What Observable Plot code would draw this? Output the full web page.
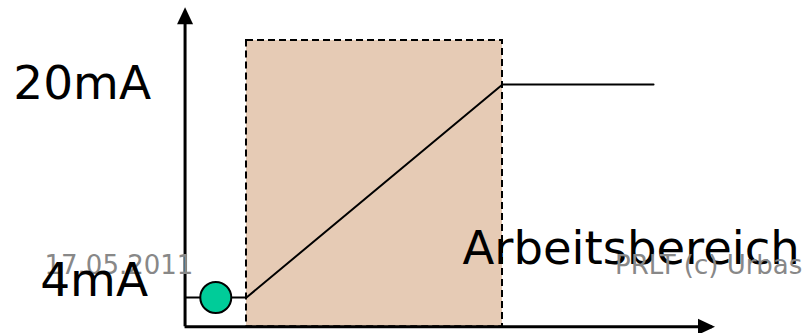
<!DOCTYPE html>
<html>
<head>
<meta charset="utf-8">
<script src="https://cdn.jsdelivr.net/npm/d3@7"></script>
<script src="https://cdn.jsdelivr.net/npm/@observablehq/plot@0.6"></script>
<style>
  html, body { margin: 0; padding: 0; background: #ffffff; overflow: hidden; }
  #chart { width: 807px; height: 333px; }
</style>
</head>
<body>
<div id="chart"></div>
<script>
// ---- data (x: measuring range in %, y: current in mA) ----
const workRange = [0, 100];          // Arbeitsbereich (working range)
const currentRange = [4, 20];        // output current span (mA)
const yTicks = [4, 20];
const yTickLabels = ["4mA", "20mA"];
const signalX = [-24, 0, 100, 159];  // output characteristic
const signalY = [4, 4, 20, 20];
const markerX = [-12];               // status marker
const markerY = [4];
const axisOriginX = -24;
const axisOriginY = 1.8;
const axisEndX = 183;
const axisEndY = 25.8;
const rangeTop = 23.3;
const rangeLabel = "Arbeitsbereich";
const footerDate = "17.05.2011";
const footerText = "PRLT (c) Urbas";

const signal = signalX.map((x, i) => ({x, y: signalY[i]}));
const marker = markerX.map((x, i) => ({x, y: markerY[i]}));

// filled arrowheads (tip at the anchor point)
const arrowUp = {draw(ctx) { ctx.moveTo(0, 0); ctx.lineTo(8, 17); ctx.lineTo(-8, 17); ctx.closePath(); }};
const arrowRight = {draw(ctx) { ctx.moveTo(0, 0); ctx.lineTo(-17, 8); ctx.lineTo(-17, -8); ctx.closePath(); }};

const chart = Plot.plot({
  width: 807,
  height: 333,
  margin: 0,
  style: {fontFamily: "DejaVu Sans", background: "#ffffff", overflow: "hidden"},
  x: {domain: workRange, range: [246, 502], axis: null},
  y: {domain: currentRange, range: [297, 84], axis: null},
  marks: [
    Plot.rect([0], {x1: workRange[0], x2: workRange[1], y1: axisOriginY, y2: rangeTop,
      fill: "#E6CBB5", stroke: "#000000", strokeWidth: 2, strokeDasharray: "7,4"}),
    Plot.line(signal, {x: "x", y: "y", stroke: "#000000", strokeWidth: 2}),
    Plot.ruleX([axisOriginX], {y1: axisOriginY, y2: axisEndY - 1, stroke: "#000000", strokeWidth: 3}),
    Plot.ruleY([axisOriginY], {x1: axisOriginX, x2: axisEndX - 1, stroke: "#000000", strokeWidth: 3}),
    Plot.dot([0], {x: axisOriginX, y: axisEndY, symbol: arrowUp, fill: "#000000", stroke: "none"}),
    Plot.dot([0], {x: axisEndX, y: axisOriginY, symbol: arrowRight, fill: "#000000", stroke: "none"}),
    Plot.dot(marker, {x: "x", y: "y", r: 15.5, fill: "#00CC99", stroke: "#000000", strokeWidth: 2}),
    Plot.text([yTickLabels[1]], {x: axisOriginX, y: yTicks[1], text: d => d, textAnchor: "end", lineAnchor: "bottom",
      dx: -34, dy: 14, fontSize: 47, fill: "#000000"}),
    Plot.text([footerDate], {frameAnchor: "bottom-left", text: d => d, textAnchor: "start", lineAnchor: "bottom",
      dx: 44, dy: -60, fontSize: 26, fill: "#888888"}),
    Plot.text([yTickLabels[0]], {x: axisOriginX, y: yTicks[0], text: d => d, textAnchor: "end", lineAnchor: "bottom",
      dx: -37, dy: -2, fontSize: 47, fill: "#000000"}),
    Plot.text([rangeLabel], {x: workRange[1], y: currentRange[0], text: d => d, textAnchor: "start", lineAnchor: "bottom",
      dx: -40, dy: -34, fontSize: 46.5, fill: "#000000"}),
    Plot.text([footerText], {frameAnchor: "bottom-left", text: d => d, textAnchor: "start", lineAnchor: "bottom",
      dx: 614.5, dy: -60, fontSize: 26, fill: "#888888"})
  ]
});
document.getElementById("chart").appendChild(chart);
</script>
</body>
</html>
